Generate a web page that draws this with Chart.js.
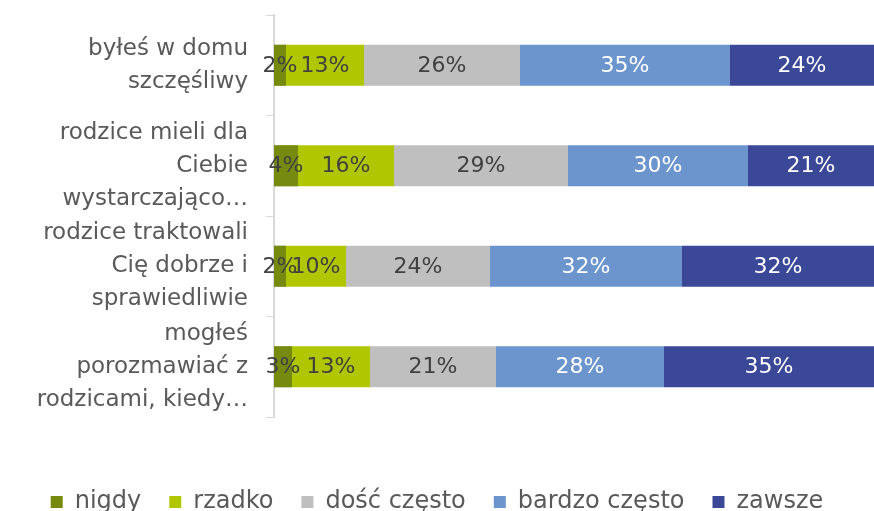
<!DOCTYPE html>
<html>
<head>
<meta charset="utf-8">
<script src="https://cdn.jsdelivr.net/npm/chart.js@4"></script>
<style>
  html, body { margin: 0; padding: 0; background: #fff; }
</style>
</head>
<body>
<canvas id="barChart" width="874" height="511"></canvas>
<script>
// categories (multi-line, as in the original)
const categories = [
    ['byłeś w domu', 'szczęśliwy'],
    ['rodzice mieli dla', 'Ciebie', 'wystarczająco…'],
    ['rodzice traktowali', 'Cię dobrze i', 'sprawiedliwie'],
    ['mogłeś', 'porozmawiać z', 'rodzicami, kiedy…']
];
const seriesNames = ['nigdy', 'rzadko', 'dość często', 'bardzo często', 'zawsze'];
const nigdy = [2, 4, 2, 3];
const rzadko = [13, 16, 10, 13];
const dosc = [26, 29, 24, 21];
const bardzo = [35, 30, 32, 28];
const zawsze = [24, 21, 32, 35];

const colors = ['#778a10', '#afc600', '#bfbfbf', '#6b95cc', '#3a4897'];
const labelColors = ['#404040', '#404040', '#404040', '#ffffff', '#ffffff'];
const FONT = '"DejaVu Sans", sans-serif';

// draws the percentage in the middle of every segment
const segmentLabels = {
    id: 'segmentLabels',
    afterDatasetsDraw(chart) {
        const ctx = chart.ctx;
        ctx.save();
        ctx.font = '22px ' + FONT;
        ctx.textAlign = 'center';
        ctx.textBaseline = 'middle';
        chart.data.datasets.forEach((ds, i) => {
            const meta = chart.getDatasetMeta(i);
            meta.data.forEach((bar, j) => {
                ctx.fillStyle = labelColors[i];
                ctx.fillText(ds.data[j] + '%', (bar.x + bar.base) / 2, bar.y + 1);
            });
        });
        ctx.restore();
    }
};

const ctx = document.getElementById('barChart').getContext('2d');
new Chart(ctx, {
    type: 'bar',
    data: {
        labels: categories,
        datasets: [nigdy, rzadko, dosc, bardzo, zawsze].map((d, i) => ({
            label: seriesNames[i],
            data: d,
            backgroundColor: colors[i],
            borderWidth: 0,
            barPercentage: 0.41,
            categoryPercentage: 1
        }))
    },
    options: {
        indexAxis: 'y',
        responsive: false,
        animation: false,
        layout: { padding: { top: 15, right: 0, left: 0, bottom: -13 } },
        plugins: {
            legend: {
                position: 'bottom',
                labels: {
                    color: '#595959',
                    font: { family: FONT, size: 24 },
                    boxWidth: 12,
                    boxHeight: 12,
                    padding: 28
                }
            },
            tooltip: { enabled: false }
        },
        scales: {
            x: {
                stacked: true,
                min: 0,
                max: 100,
                ticks: { display: false },
                grid: { display: false },
                border: { display: false },
                afterFit(scale) { scale.height = 45; }
            },
            y: {
                stacked: true,
                grid: {
                    drawOnChartArea: false,
                    drawTicks: true,
                    tickLength: 8,
                    color: '#d9d9d9'
                },
                border: { color: '#d9d9d9', width: 2 },
                ticks: {
                    color: '#595959',
                    font: { family: FONT, size: 23, lineHeight: 1.43 },
                    padding: 18,
                    autoSkip: false
                },
                afterFit(scale) {
                    scale.width = 274;
                    scale.paddingTop = 0;
                    scale.paddingBottom = 0;
                }
            }
        }
    },
    plugins: [segmentLabels]
});
</script>
</body>
</html>
